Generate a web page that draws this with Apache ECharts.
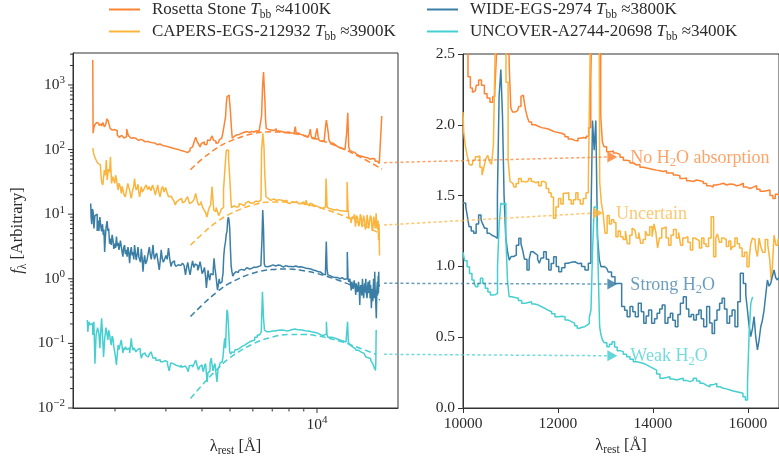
<!DOCTYPE html>
<html><head><meta charset="utf-8">
<script src="https://cdn.jsdelivr.net/npm/echarts@6/dist/echarts.min.js"></script>
<style>html,body{margin:0;padding:0;background:#fff}#c{width:779px;height:465px}</style>
</head><body><div id="c"></div>
<script>
const FONT = 'Liberation Serif';
const objectNames = ['Rosetta Stone', 'CAPERS-EGS-212932', 'WIDE-EGS-2974', 'UNCOVER-A2744-20698'];
const temps = [4100, 3900, 3800, 3400];
const colors = ['#fd8434', '#fbb43c', '#3a7ea6', '#46cfd1'];
const legendCol = [0, 0, 1, 1];
const legendRow = [0, 1, 0, 1];

// left panel: log-log spectra [wavelength (A), f_lambda]
const rosettaLeft = [[1675,2440],[1684,179],[1695,215],[1706,240],[1720,225],[1735,262],[1756,255],[1770,236],[1790,250],[1804,232],[1826,262],[1847,225],[1865,242],[1888,300],[1900,278],[1913,292],[1935,213],[1950,200],[1966,190],[1990,205],[2019,196],[2054,168],[2081,155],[2110,166],[2136,160],[2160,151],[2183,159],[2206,208],[2225,176],[2243,161],[2265,150],[2287,145],[2315,153],[2345,150],[2380,141],[2410,138],[2440,144],[2477,140],[2520,132],[2565,128],[2600,134],[2643,130],[2700,127],[2750,126],[2800,119],[2862,122],[2920,116],[2979,114],[3040,111],[3099,109],[3160,106],[3226,103],[3290,101],[3357,98],[3420,96],[3494,93],[3540,90],[3588,88],[3620,96],[3656,104],[3690,110],[3730,113],[3780,131],[3831,155],[3860,134],[3882,141],[3920,119],[3956,110],[4000,124],[4044,132],[4100,121],[4156,119],[4210,141],[4266,138],[4320,150],[4358,163],[4400,140],[4438,135],[4500,125],[4556,128],[4620,141],[4680,150],[4720,162],[4767,201],[4810,262],[4843,323],[4870,520],[4894,660],[4930,690],[4960,700],[4985,620],[5002,586],[5035,380],[5070,230],[5110,150],[5180,161],[5274,168],[5380,172],[5490,179],[5600,185],[5713,191],[5830,184],[5947,191],[6060,187],[6190,196],[6300,189],[6400,196],[6460,330],[6510,1000],[6553,1590],[6590,900],[6620,560],[6650,300],[6700,213],[6790,205],[6879,201],[7000,197],[7158,210],[7300,194],[7449,191],[7650,184],[7860,187],[8050,181],[8282,179],[8380,185],[8438,226],[8500,182],[8577,179],[8700,172],[8856,168],[9030,160],[9210,155],[9370,158],[9460,176],[9509,208],[9560,165],[9664,150],[9842,145],[9950,170],[10056,213],[10120,160],[10242,138],[10380,135],[10515,133],[10650,140],[10760,230],[10800,287],[10860,290],[10915,270],[10970,180],[11030,141],[11240,126],[11460,118],[11697,110],[11930,106],[12175,103],[12400,100],[12600,98],[12730,179],[12830,370],[12930,110],[13050,97],[13170,93],[13300,91],[13440,90],[13580,86],[13710,88],[13850,83],[13990,82],[14130,80],[14270,79],[14420,78],[14560,76],[14710,77],[14860,75],[15010,73],[15160,72],[15310,71],[15470,70],[15600,73],[15700,69],[15800,74],[15870,72],[15960,66],[16050,68],[16150,64],[16230,66],[16300,62],[16380,65],[16480,61],[16560,64],[16640,59],[16720,63],[16790,330]];
const capersLeft = [[1675,105],[1697,88],[1711,75],[1729,69],[1753,62],[1780,57.8],[1792,45],[1804,31.6],[1826,28.3],[1847,48.3],[1860,40],[1871,69],[1888,33.8],[1908,50],[1922,45],[1935,77],[1955,30],[1974,38],[1990,33],[2002,30],[2016,40],[2030,35.6],[2044,28],[2058,23.7],[2070,30],[2081,31],[2095,26],[2110,21],[2125,27],[2136,23.7],[2160,20],[2183,18.6],[2205,24],[2225,30],[2240,26],[2254,23.7],[2270,20],[2284,17.6],[2300,21],[2315,22.5],[2330,28],[2345,35.6],[2360,27],[2377,23.7],[2395,26],[2410,29],[2425,22],[2441,18.6],[2458,22],[2475,26.7],[2500,22],[2522,23.7],[2550,26],[2580,28.3],[2610,24],[2643,26.7],[2680,23],[2715,28.3],[2745,24],[2772,19.8],[2800,24],[2822,28.3],[2850,22],[2877,18.6],[2910,24],[2938,27],[2975,22],[3015,26],[3050,21],[3080,18.6],[3130,19],[3180,17.6],[3215,16],[3250,13.9],[3280,15.5],[3307,16.6],[3350,16],[3400,17.6],[3450,15],[3494,15.8],[3540,17],[3588,18.6],[3610,16],[3636,14.6],[3680,15.5],[3730,15.8],[3780,17],[3831,21],[3870,16],[3910,13.9],[3950,14.5],[3987,15.8],[4040,13],[4098,11.6],[4140,10.5],[4178,9.0],[4220,11],[4266,12.7],[4310,14],[4358,26.7],[4380,16],[4405,11.6],[4450,11],[4500,12.7],[4545,11],[4590,9.5],[4620,10],[4650,11],[4690,12],[4730,12.7],[4767,23.7],[4815,43],[4850,75],[4870,98.6],[4920,98],[4970,69],[5000,40],[5030,23.7],[5080,12.7],[5110,12.3],[5160,13.5],[5205,13.9],[5270,12.8],[5340,13.2],[5410,14.5],[5490,14.2],[5560,13.4],[5637,13.5],[5710,15],[5790,15.8],[5900,14.8],[6030,15],[6150,16],[6275,15.5],[6400,16.6],[6460,98],[6530,179],[6580,110],[6620,40],[6700,18.6],[6780,17.5],[6880,16.4],[6960,16.8],[7100,17.3],[7200,16.2],[7300,16.8],[7450,16.5],[7650,16],[7800,16.5],[7950,15.2],[8050,14.6],[8200,15.6],[8300,15.2],[8450,15.8],[8577,15],[8700,14.5],[8856,14.4],[8950,15.5],[9050,15.2],[9150,13.8],[9210,16.5],[9280,14.2],[9350,13.5],[9500,14.6],[9664,14],[9800,13.6],[9950,13.2],[10100,13.5],[10242,12.7],[10400,12.3],[10550,12.5],[10700,13],[10800,35.6],[10880,12.8],[10945,12.3],[11100,12.1],[11240,12],[11450,11.6],[11697,11.8],[11850,11.4],[12010,11.6],[12200,11.3],[12400,11.2],[12530,11.5],[12660,11],[12760,31.6],[12850,12],[12930,9],[13050,8.5],[13170,7.3],[13300,9.2],[13420,8.5],[13530,10],[13640,6.4],[13760,9.5],[13900,8.7],[13990,6.5],[14080,7.0],[14170,10],[14270,9.0],[14360,6.3],[14460,6.0],[14550,9.5],[14650,8.2],[14750,5.8],[14860,6.5],[14950,9.8],[15060,9.5],[15150,6],[15250,5.7],[15360,9.5],[15470,8.8],[15570,5.5],[15670,6.2],[15770,9.2],[15870,9.5],[15960,6],[16080,10.3],[16150,6.5],[16230,5.8],[16300,8],[16370,4.0],[16430,7],[16480,2.3]];
const wideLeft = [[1648,14.6],[1658,9],[1665,7],[1675,12],[1684,11],[1697,6],[1711,9.5],[1729,10],[1741,5.5],[1753,8],[1765,5.5],[1780,9],[1792,6.5],[1804,5.4],[1817,7],[1826,4.76],[1836,5.8],[1847,2.6],[1858,4.5],[1871,6.5],[1885,7.8],[1895,5.5],[1908,6],[1922,3.5],[1935,4.2],[1948,3.34],[1961,4.8],[1974,4.0],[1988,2.9],[2002,3.5],[2016,3.0],[2030,4.5],[2044,3.2],[2058,3.6],[2070,2.8],[2081,3.0],[2095,3.9],[2110,3.8],[2122,2.6],[2136,2.2],[2150,3.0],[2166,3.34],[2180,2.4],[2195,2.8],[2210,2.2],[2225,3.1],[2240,2.5],[2254,1.74],[2270,2.6],[2284,3.1],[2300,2.3],[2315,2.6],[2330,2.0],[2345,3.34],[2360,2.5],[2377,1.95],[2395,2.4],[2410,3.1],[2425,2.2],[2441,2.3],[2458,1.8],[2475,2.9],[2490,2.1],[2508,1.29],[2525,1.9],[2540,2.3],[2565,1.7],[2590,1.9],[2615,2.4],[2643,3.1],[2660,2.3],[2680,2.0],[2700,2.6],[2715,3.34],[2730,2.4],[2750,2.0],[2775,2.3],[2800,2.5],[2830,1.9],[2862,1.37],[2880,2.0],[2900,2.8],[2925,2.1],[2953,1.8],[2985,2.0],[3015,2.3],[3045,2.0],[3080,3.0],[3110,2.0],[3140,1.55],[3170,1.8],[3198,1.9],[3230,1.7],[3267,1.55],[3310,1.65],[3357,1.6],[3400,1.5],[3448,1.75],[3490,1.6],[3524,1.15],[3555,1.5],[3588,1.8],[3620,1.4],[3656,1.15],[3690,1.5],[3730,1.9],[3770,1.5],[3810,1.7],[3845,1.6],[3880,1.35],[3920,1.5],[3956,1.85],[3990,1.5],[4020,1.2],[4060,1.3],[4098,1.5],[4130,1.1],[4156,0.72],[4185,1.0],[4210,1.35],[4240,1.1],[4266,0.95],[4310,1.2],[4358,1.15],[4390,1.4],[4417,2.08],[4445,1.5],[4476,1.2],[4510,0.9],[4540,0.67],[4570,0.8],[4600,1.0],[4640,0.85],[4680,0.9],[4715,1.0],[4744,1.2],[4767,2.2],[4805,3.0],[4843,3.76],[4870,5.0],[4894,5.4],[4920,8],[4948,9.0],[4975,8],[5002,6],[5030,3.0],[5060,1.6],[5095,1.29],[5130,1.1],[5200,1.2],[5274,1.29],[5340,1.25],[5400,1.35],[5490,1.4],[5570,1.36],[5640,1.45],[5713,1.48],[5800,1.42],[5900,1.45],[6000,1.52],[6100,1.5],[6200,1.47],[6275,1.55],[6360,1.5],[6430,1.6],[6470,4],[6510,11.6],[6550,6],[6590,1.7],[6650,1.55],[6700,1.54],[6800,1.62],[6900,1.58],[7050,1.64],[7150,1.58],[7250,1.55],[7350,1.63],[7449,1.6],[7550,1.65],[7650,1.52],[7750,1.6],[7860,1.66],[7950,1.55],[8050,1.55],[8150,1.6],[8282,1.54],[8400,1.58],[8500,1.6],[8620,1.52],[8735,1.54],[8850,1.5],[9000,1.5],[9100,1.45],[9210,1.48],[9330,1.44],[9450,1.42],[9580,1.38],[9710,1.37],[9850,1.33],[10000,1.3],[10120,1.28],[10242,1.22],[10350,1.27],[10450,1.25],[10560,1.18],[10658,1.15],[10740,1.3],[10800,3.76],[10870,1.4],[10945,1.15],[11050,1.12],[11150,1.1],[11270,1.07],[11390,1.11],[11500,1.05],[11600,1.08],[11700,1.05],[11850,1.02],[12010,1.0],[12150,1.04],[12300,1.02],[12450,0.98],[12600,0.97],[12700,1.0],[12760,2.6],[12850,1.0],[12930,0.9],[13050,1.0],[13110,0.8],[13170,0.66],[13240,0.9],[13300,0.85],[13360,0.7],[13420,0.8],[13480,0.95],[13533,1.0],[13590,0.7],[13640,0.56],[13700,0.85],[13760,0.75],[13830,0.62],[13900,0.7],[13950,0.9],[14000,0.95],[14040,0.6],[14083,0.393],[14140,0.7],[14200,0.8],[14270,0.75],[14330,0.55],[14400,1.0],[14470,0.7],[14540,0.5],[14600,0.7],[14660,0.85],[14720,0.65],[14780,1.0],[14860,0.6],[14940,0.5],[15000,0.75],[15060,0.9],[15120,0.6],[15180,0.75],[15240,0.95],[15300,0.5],[15380,0.8],[15470,0.35],[15520,0.6],[15570,0.7],[15620,0.45],[15670,0.55],[15720,1.0],[15770,0.85],[15820,0.5],[15870,1.29],[15910,0.7],[15950,0.6],[16010,0.4],[16080,0.245],[16150,0.7],[16200,0.9],[16230,0.55],[16270,0.8],[16300,1.1],[16340,0.6],[16370,1.29],[16420,0.75],[16480,0.8]];
const uncoverLeft = [[1604,0.23],[1617,0.151],[1630,0.216],[1648,0.193],[1665,0.205],[1684,0.135],[1697,0.216],[1711,0.0486],[1729,0.135],[1753,0.176],[1766,0.14],[1780,0.084],[1792,0.16],[1804,0.245],[1817,0.135],[1834,0.0615],[1852,0.12],[1871,0.176],[1883,0.14],[1895,0.113],[1910,0.16],[1922,0.135],[1935,0.11],[1948,0.094],[1961,0.13],[1974,0.12],[1988,0.09],[2002,0.074],[2016,0.06],[2030,0.0463],[2044,0.07],[2058,0.094],[2070,0.08],[2081,0.084],[2095,0.1],[2110,0.113],[2122,0.09],[2136,0.071],[2150,0.085],[2166,0.079],[2180,0.088],[2195,0.094],[2210,0.08],[2225,0.075],[2240,0.085],[2254,0.071],[2270,0.09],[2284,0.12],[2300,0.09],[2315,0.079],[2345,0.085],[2377,0.074],[2410,0.08],[2441,0.084],[2458,0.07],[2475,0.059],[2508,0.068],[2540,0.071],[2575,0.065],[2610,0.0615],[2645,0.068],[2680,0.074],[2700,0.065],[2715,0.059],[2750,0.06],[2787,0.055],[2840,0.056],[2900,0.052],[2960,0.054],[3015,0.052],[3060,0.048],[3099,0.0375],[3140,0.05],[3180,0.0486],[3225,0.046],[3267,0.0486],[3310,0.045],[3357,0.0428],[3400,0.046],[3448,0.0428],[3500,0.045],[3543,0.0463],[3570,0.04],[3600,0.0365],[3630,0.045],[3656,0.043],[3690,0.046],[3730,0.0428],[3780,0.048],[3831,0.055],[3870,0.045],[3910,0.0388],[3950,0.044],[3987,0.0463],[4025,0.042],[4063,0.0365],[4100,0.045],[4130,0.0486],[4155,0.035],[4178,0.0253],[4210,0.035],[4244,0.0375],[4285,0.05],[4324,0.059],[4355,0.045],[4382,0.0375],[4420,0.045],[4452,0.0486],[4490,0.035],[4525,0.0253],[4565,0.04],[4600,0.043],[4640,0.05],[4680,0.052],[4715,0.055],[4744,0.0615],[4780,0.09],[4807,0.12],[4843,0.084],[4870,0.2],[4894,0.33],[4920,0.3],[4948,0.205],[4975,0.12],[5002,0.074],[5050,0.068],[5095,0.074],[5164,0.072],[5250,0.08],[5340,0.084],[5450,0.09],[5565,0.094],[5680,0.1],[5790,0.106],[5910,0.11],[6030,0.113],[6150,0.125],[6275,0.135],[6380,0.142],[6450,0.151],[6500,0.63],[6560,0.25],[6600,0.16],[6700,0.152],[6780,0.151],[6900,0.155],[7050,0.156],[7250,0.16],[7449,0.161],[7650,0.158],[7860,0.156],[8050,0.163],[8282,0.167],[8500,0.162],[8735,0.161],[9000,0.157],[9210,0.156],[9450,0.152],[9710,0.148],[10000,0.142],[10242,0.135],[10450,0.133],[10658,0.13],[10760,0.14],[10800,0.216],[10870,0.135],[10945,0.125],[11150,0.124],[11390,0.123],[11700,0.118],[12010,0.113],[12300,0.109],[12600,0.105],[12720,0.11],[12800,0.216],[12880,0.105],[12930,0.1],[13100,0.094],[13300,0.088],[13533,0.084],[13800,0.078],[14083,0.074],[14300,0.071],[14460,0.07],[14650,0.066],[14860,0.0615],[15050,0.06],[15250,0.058],[15450,0.054],[15600,0.05],[15670,0.052],[15750,0.045],[15800,0.048],[15860,0.04],[15910,0.043],[15960,0.038],[16000,0.05],[16050,0.161]];

// blackbody fits (dashed)
const rosettaBB = [[3650,49],[4000,71],[4500,105],[5000,135],[6000,176],[7000,188],[8000,181],[9000,165],[10000,146],[12000,108],[14000,78],[16800,50]];
const capersBB = [[3650,3.3],[4000,4.9],[4500,7.6],[5000,10.1],[6000,13.9],[7000,15.5],[8000,15.5],[9000,14.5],[10000,13.0],[12000,9.9],[14000,7.3],[16500,5.0]];
const wideBB = [[3650,0.26],[4000,0.39],[4500,0.62],[5000,0.86],[6000,1.22],[7000,1.39],[8000,1.42],[9000,1.33],[10000,1.21],[12000,0.93],[14000,0.70],[16500,0.47]];
const uncoverBB = [[3650,0.014],[4000,0.0225],[4500,0.0395],[5000,0.06],[6000,0.098],[7000,0.125],[8000,0.137],[9000,0.137],[10000,0.131],[12000,0.108],[14000,0.085],[16000,0.068]];

// right panel: linear zoom 10000-16650 A
const rosettaRight = [[10000,2.9],[10080,2.55],[10130,2.34],[10180,2.26],[10217,2.23],[10260,2.24],[10300,2.28],[10358,2.316],[10420,2.28],[10480,2.22],[10533,2.19],[10603,2.16],[10650,2.2],[10690,2.24],[10720,2.5],[10750,3.2],[10800,4],[10900,4],[10960,3.2],[10989,2.4],[11025,2.12],[11060,2.09],[11095,2.09],[11150,2.1],[11200,2.13],[11240,2.2],[11270,2.21],[11300,2.17],[11341,2.1],[11375,2.05],[11410,2.02],[11480,2.0],[11551,1.99],[11620,1.98],[11690,1.975],[11762,1.97],[11830,1.96],[11902,1.95],[11970,1.945],[12040,1.94],[12112,1.93],[12180,1.915],[12250,1.90],[12320,1.89],[12393,1.885],[12450,1.905],[12498,1.91],[12570,1.905],[12620,1.92],[12670,1.98],[12709,2.3],[12744,3.0],[12800,4],[12880,3.2],[12919,2.06],[12950,1.88],[12989,1.845],[13059,1.81],[13130,1.815],[13200,1.80],[13270,1.79],[13340,1.77],[13411,1.75],[13480,1.745],[13550,1.73],[13621,1.716],[13690,1.72],[13760,1.70],[13830,1.695],[13901,1.69],[13970,1.685],[14040,1.68],[14110,1.675],[14183,1.67],[14250,1.675],[14320,1.66],[14393,1.66],[14460,1.645],[14530,1.64],[14604,1.62],[14670,1.625],[14740,1.605],[14814,1.60],[14880,1.61],[14950,1.605],[15025,1.60],[15095,1.585],[15165,1.57],[15235,1.56],[15300,1.575],[15370,1.58],[15446,1.587],[15516,1.575],[15586,1.582],[15656,1.58],[15726,1.57],[15796,1.575],[15867,1.587],[15937,1.56],[16007,1.55],[16077,1.56],[16147,1.57],[16218,1.545],[16288,1.53],[16358,1.535],[16428,1.54],[16498,1.50],[16550,1.48],[16600,1.51],[16653,1.50]];
const capersRight = [[10000,2.09],[10030,1.95],[10070,1.85],[10110,1.78],[10150,1.72],[10190,1.715],[10240,1.75],[10280,1.775],[10330,1.78],[10380,1.70],[10420,1.645],[10460,1.70],[10500,1.76],[10540,1.785],[10580,1.74],[10620,1.72],[10660,1.85],[10700,2.6],[10740,3.5],[10800,4],[10880,3.5],[10930,2.3],[10970,1.75],[11010,1.6],[11050,1.587],[11095,1.56],[11140,1.585],[11200,1.62],[11250,1.60],[11300,1.595],[11350,1.605],[11410,1.62],[11460,1.60],[11510,1.59],[11560,1.60],[11620,1.57],[11680,1.6],[11720,1.59],[11780,1.55],[11830,1.52],[11880,1.49],[11930,1.34],[11980,1.42],[12040,1.48],[12080,1.44],[12140,1.516],[12200,1.52],[12253,1.47],[12300,1.44],[12350,1.47],[12400,1.52],[12440,1.47],[12498,1.44],[12560,1.48],[12620,1.52],[12660,1.62],[12700,2.6],[12760,4],[12860,3.5],[12895,1.6],[12930,1.45],[12970,1.375],[13010,1.234],[13059,1.36],[13100,1.30],[13150,1.33],[13200,1.31],[13240,1.21],[13290,1.25],[13340,1.21],[13400,1.19],[13440,1.25],[13481,1.16],[13540,1.22],[13580,1.27],[13621,1.257],[13680,1.2],[13720,1.24],[13761,1.163],[13820,1.19],[13860,1.25],[13901,1.22],[13960,1.28],[14000,1.21],[14042,1.30],[14080,1.24],[14112,1.13],[14160,1.2],[14210,1.27],[14253,1.28],[14300,1.2],[14358,1.15],[14400,1.22],[14463,1.26],[14520,1.2],[14560,1.24],[14604,1.15],[14650,1.2],[14709,1.21],[14760,1.17],[14814,1.116],[14860,1.2],[14910,1.19],[14954,1.18],[15000,1.13],[15050,1.2],[15095,1.16],[15140,1.14],[15200,1.2],[15249,1.351],[15305,1.068],[15340,1.2],[15375,1.23],[15420,1.17],[15470,1.2],[15516,1.19],[15570,1.14],[15620,1.18],[15656,1.116],[15700,1.14],[15750,1.2],[15796,1.16],[15850,1.13],[15902,1.07],[15950,1.1],[16007,0.998],[16040,1.05],[16077,1.16],[16110,1.2],[16147,1.19],[16180,1.12],[16218,1.07],[16250,1.2],[16288,1.14],[16330,1.1],[16393,1.19],[16440,1.15],[16475,1.05],[16498,0.904],[16530,1.0],[16568,1.22],[16610,1.15],[16653,1.19]];
const wideRight = [[10000,1.45],[10040,1.446],[10077,1.42],[10110,1.35],[10147,1.28],[10200,1.25],[10253,1.234],[10300,1.3],[10358,1.363],[10400,1.33],[10428,1.30],[10480,1.27],[10533,1.234],[10580,1.22],[10638,1.21],[10709,1.198],[10740,1.5],[10780,2.2],[10814,2.39],[10849,2.06],[10880,1.5],[10919,1.21],[10960,1.1],[10989,1.045],[11040,1.07],[11095,1.08],[11150,1.15],[11200,1.198],[11240,1.16],[11270,1.116],[11320,1.05],[11375,0.975],[11410,1.05],[11446,1.104],[11500,1.09],[11551,1.08],[11590,1.05],[11621,1.022],[11670,1.06],[11726,1.104],[11780,1.05],[11832,0.975],[11880,1.02],[11937,1.069],[11990,1.0],[12042,0.963],[12110,0.99],[12183,1.022],[12250,1.03],[12322,1.033],[12390,1.02],[12463,1.022],[12530,1.0],[12604,0.975],[12674,1.022],[12710,1.3],[12744,2.03],[12779,1.82],[12814,2.03],[12849,1.21],[12890,1.05],[12919,0.998],[12970,1.0],[13025,0.987],[13090,0.96],[13165,0.927],[13235,0.88],[13305,0.88],[13376,0.716],[13430,0.69],[13481,0.645],[13551,0.716],[13600,0.68],[13656,0.645],[13726,0.739],[13780,0.68],[13831,0.598],[13880,0.65],[13937,0.692],[14007,0.598],[14060,0.63],[14112,0.669],[14170,0.7],[14218,0.727],[14288,0.598],[14340,0.64],[14393,0.669],[14440,0.62],[14499,0.574],[14550,0.66],[14604,0.739],[14674,0.786],[14730,0.7],[14779,0.645],[14830,0.66],[14884,0.621],[14940,0.66],[14990,0.692],[15040,0.63],[15095,0.574],[15165,0.716],[15220,0.6],[15270,0.527],[15320,0.62],[15375,0.692],[15430,0.74],[15480,0.775],[15530,0.7],[15586,0.598],[15640,0.65],[15691,0.692],[15761,0.574],[15810,0.75],[15867,0.951],[15937,0.88],[15970,0.8],[16007,0.692],[16040,0.58],[16077,0.504],[16110,0.56],[16147,0.645],[16180,0.5],[16218,0.41],[16250,0.48],[16288,0.574],[16320,0.62],[16358,0.692],[16390,0.8],[16428,0.904],[16460,0.86],[16498,0.88],[16530,0.93],[16568,0.975],[16600,0.92],[16639,0.904],[16653,0.92]];
const uncoverRight = [[10000,1.1],[10007,1.092],[10060,1.04],[10112,0.998],[10160,0.95],[10217,0.904],[10250,0.88],[10288,0.857],[10340,0.88],[10393,0.916],[10440,0.88],[10498,0.845],[10550,0.82],[10603,0.798],[10650,0.8],[10709,0.81],[10744,1.0],[10780,1.3],[10814,1.446],[10850,1.44],[10884,1.446],[10920,1.2],[10954,0.9],[10989,0.786],[11060,0.78],[11130,0.775],[11200,0.76],[11270,0.739],[11340,0.745],[11410,0.75],[11480,0.735],[11551,0.727],[11620,0.715],[11691,0.704],[11760,0.69],[11832,0.68],[11900,0.665],[11972,0.645],[12040,0.648],[12112,0.645],[12183,0.621],[12250,0.61],[12322,0.598],[12380,0.58],[12428,0.563],[12480,0.57],[12533,0.574],[12590,0.585],[12638,0.598],[12680,0.64],[12709,0.692],[12744,1.1],[12779,1.42],[12849,1.42],[12870,0.8],[12884,0.574],[12920,0.52],[12954,0.48],[13000,0.46],[13059,0.433],[13110,0.45],[13165,0.468],[13220,0.43],[13270,0.405],[13340,0.398],[13410,0.38],[13481,0.362],[13550,0.345],[13621,0.327],[13690,0.322],[13761,0.316],[13830,0.305],[13901,0.292],[13970,0.28],[14042,0.268],[14110,0.24],[14183,0.21],[14250,0.215],[14323,0.221],[14390,0.205],[14463,0.198],[14530,0.205],[14604,0.21],[14670,0.195],[14744,0.186],[14810,0.195],[14884,0.21],[14950,0.19],[15025,0.174],[15095,0.16],[15165,0.15],[15235,0.165],[15305,0.174],[15380,0.15],[15446,0.139],[15516,0.135],[15586,0.127],[15656,0.12],[15726,0.115],[15796,0.11],[15867,0.104],[15920,0.08],[15972,0.056],[16007,0.174],[16042,0.527],[16077,0.739],[16110,0.78]];

// tick labels / ticks
const leftYMajor = [0.01, 0.1, 1, 10, 100, 1000];
const leftXMajor = [10000];
const leftXMinor = [2000, 3000, 4000, 5000, 6000, 7000, 8000, 9000];
const rightXTicks = [10000, 12000, 14000, 16000];

// annotations
const annotLabels = ['No H2O absorption', 'Uncertain', 'Strong H2O', 'Weak H2O'];
const annotFromX = 17050;
const annotFromY = [62.7, 6.8, 0.852, 0.0678];
const annotToX = [13250, 12950, 13250, 13250];
const annotToY = [1.773, 1.377, 0.876, 0.369];

const leftData = [rosettaLeft, capersLeft, wideLeft, uncoverLeft];
const bbData = [rosettaBB, capersBB, wideBB, uncoverBB];
const rightData = [rosettaRight, capersRight, wideRight, uncoverRight];

const TXT = '#2b2b2b';
const FRAME = '#333';

const chart = echarts.init(document.getElementById('c'), null, {renderer: 'canvas'});

const legendRich = {
  a: {fontFamily: FONT, fontSize: 17, color: TXT, lineHeight: 22, verticalAlign: 'middle'},
  i: {fontFamily: FONT, fontSize: 17, color: TXT, fontStyle: 'italic', lineHeight: 22, verticalAlign: 'middle'},
  s: {fontFamily: FONT, fontSize: 11.5, color: TXT, lineHeight: 14, verticalAlign: 'bottom'}
};
const nameRich = {
  a: {fontFamily: FONT, fontSize: 16.5, color: TXT, lineHeight: 22, verticalAlign: 'middle'},
  l: {fontFamily: FONT, fontSize: 16.5, color: TXT, lineHeight: 22, verticalAlign: 'middle'},
  i: {fontFamily: FONT, fontSize: 16.5, color: TXT, fontStyle: 'italic', lineHeight: 22, verticalAlign: 'middle'},
  s: {fontFamily: FONT, fontSize: 11.5, color: TXT, lineHeight: 14, verticalAlign: 'bottom'}
};
const supRich = {
  b: {fontFamily: FONT, fontSize: 15.5, color: TXT, lineHeight: 20, verticalAlign: 'middle'},
  p: {fontFamily: FONT, fontSize: 11, color: TXT, lineHeight: 8, verticalAlign: 'top'}
};

function powLabel(v) {
  const e = Math.log10(v);
  const r = Math.round(e);
  if (Math.abs(e - r) > 1e-6) return '';
  return '{b|10}{p|' + (r < 0 ? '\u2212' + (-r) : r) + '}';
}

const series = [];
objectNames.forEach((n, i) => {
  series.push({
    name: n, type: 'line', xAxisIndex: 0, yAxisIndex: 0, data: leftData[i],
    step: 'middle', showSymbol: false, silent: true,
    lineStyle: {color: colors[i], width: 1.5}, itemStyle: {color: colors[i]}, z: 3 + i
  });
});
objectNames.forEach((n, i) => {
  series.push({
    name: n + ' blackbody', type: 'line', xAxisIndex: 0, yAxisIndex: 0, data: bbData[i],
    smooth: 0.4, showSymbol: false, silent: true,
    lineStyle: {color: colors[i], width: 1.5, type: [6, 3.5]}, itemStyle: {color: colors[i]}, z: 8
  });
});
objectNames.forEach((n, i) => {
  series.push({
    name: n + ' zoom', type: 'line', xAxisIndex: 1, yAxisIndex: 1, data: rightData[i],
    step: 'middle', showSymbol: false, silent: true,
    lineStyle: {color: colors[i], width: 1.5}, itemStyle: {color: colors[i]}, z: 3 + i
  });
});

const legends = objectNames.map((n, i) => ({
  data: [n],
  left: legendCol[i] ? 427 : 109,
  top: legendRow[i] ? 23 : 1,
  icon: 'rect', itemWidth: 31, itemHeight: 2, padding: 0,
  itemStyle: {color: colors[i]},
  selectedMode: false,
  formatter: name => '{a|' + name + ' }{i|T}{s|bb}{a| \u2248' + temps[objectNames.indexOf(name)] + 'K}',
  textStyle: {padding: [0, 0, 0, 7], rich: legendRich}
}));

const axisCommon = {
  axisLine: {show: true, lineStyle: {color: FRAME, width: 1}},
  splitLine: {show: false}
};

chart.setOption({
  animation: false,
  textStyle: {fontFamily: FONT},
  legend: legends,
  grid: [
    {left: 73, top: 53, width: 325, height: 355, show: true, borderColor: FRAME, borderWidth: 1, backgroundColor: 'transparent'},
    {left: 463, top: 54, width: 318, height: 354, show: true, borderColor: FRAME, borderWidth: 1, backgroundColor: 'transparent'}
  ],
  xAxis: [
    Object.assign({}, axisCommon, {
      type: 'log', gridIndex: 0, min: 1431, max: 19070, logBase: 10,
      axisTick: {show: false},
      axisLabel: {formatter: powLabel, margin: 7, rich: supRich},
      name: '{l|\u03bb}{s|rest}{a| [\u00c5]}', nameLocation: 'middle', nameGap: 21,
      nameTextStyle: {rich: nameRich}
    }),
    Object.assign({}, axisCommon, {
      type: 'value', gridIndex: 1, min: 10000, max: 16653, interval: 2000,
      axisTick: {show: true, length: 5, lineStyle: {color: FRAME}},
      axisLabel: {formatter: v => (rightXTicks.indexOf(v) >= 0 ? String(v) : ''), margin: 8, fontSize: 15.5, color: TXT, fontFamily: FONT, showMaxLabel: false},
      name: '{l|\u03bb}{s|rest}{a| [\u00c5]}', nameLocation: 'middle', nameGap: 21,
      nameTextStyle: {rich: nameRich}
    })
  ],
  yAxis: [
    Object.assign({}, axisCommon, {
      type: 'log', gridIndex: 0, min: 0.01, max: 3126, logBase: 10,
      axisTick: {show: false},
      axisLabel: {formatter: powLabel, margin: 8, rich: supRich},
      name: '{i|f}{s|\u03bb}{a| [Arbitrary]}', nameLocation: 'middle', nameGap: 44, nameRotate: 90,
      nameTextStyle: {rich: nameRich}
    }),
    Object.assign({}, axisCommon, {
      type: 'value', gridIndex: 1, min: 0, max: 2.5, interval: 0.5,
      axisTick: {show: true, length: 5, lineStyle: {color: FRAME}},
      axisLabel: {formatter: v => v.toFixed(1), margin: 8, fontSize: 15.5, color: TXT, fontFamily: FONT}
    })
  ],
  series: series
});

function buildGraphics() {
  const g = [];
  const L = (v) => chart.convertToPixel({xAxisIndex: 0, yAxisIndex: 0}, v);
  const R = (v) => chart.convertToPixel({xAxisIndex: 1, yAxisIndex: 1}, v);
  const tickLine = (x1, y1, x2, y2) => ({type: 'line', silent: true, z: 50,
    shape: {x1: x1, y1: y1, x2: x2, y2: y2}, style: {stroke: FRAME, lineWidth: 1}});
  leftXMajor.forEach(t => { const p = L([t, 0.01]); g.push(tickLine(p[0], p[1], p[0], p[1] + 5)); });
  leftXMinor.forEach(t => { const p = L([t, 0.01]); g.push(tickLine(p[0], p[1], p[0], p[1] + 3.5)); });
  leftYMajor.forEach(t => {
    const p = L([1431, t]);
    g.push(tickLine(p[0] - 5, p[1], p[0], p[1]));
    for (let m = 2; m <= 9; m++) {
      const v = t * m;
      if (v > 3126) break;
      const q = L([1431, v]);
      g.push(tickLine(q[0] - 3, q[1], q[0], q[1]));
    }
  });
  annotLabels.forEach((lab, i) => {
    const a = L([annotFromX, annotFromY[i]]);
    const b = R([annotToX[i], annotToY[i]]);
    const col = colors[i];
    g.push({type: 'line', silent: true, z: 60,
      shape: {x1: a[0], y1: a[1], x2: b[0] - 8, y2: b[1]},
      style: {stroke: col, lineWidth: 1.5, lineDash: [3, 2.5], opacity: 0.75}});
    g.push({type: 'polygon', silent: true, z: 60,
      shape: {points: [[b[0], b[1]], [b[0] - 10, b[1] - 5.5], [b[0] - 10, b[1] + 5.5]]},
      style: {fill: col, opacity: 0.85}});
    const parts = lab.split('H2O');
    let txt;
    if (parts.length > 1) txt = '{a|' + parts[0] + 'H}{s|2}{a|O' + parts[1] + '}';
    else txt = '{a|' + lab + '}';
    g.push({type: 'text', silent: true, z: 60, x: b[0] + 13, y: b[1] + 1,
      style: {text: txt, fill: col, opacity: 0.75, align: 'left', verticalAlign: 'middle',
        rich: {
          a: {fontFamily: FONT, fontSize: 18, fill: col, lineHeight: 22, verticalAlign: 'middle'},
          s: {fontFamily: FONT, fontSize: 12.5, fill: col, lineHeight: 14, verticalAlign: 'bottom'}
        }}});
  });
  return g;
}
chart.setOption({graphic: {elements: buildGraphics()}});
</script>
</body></html>
